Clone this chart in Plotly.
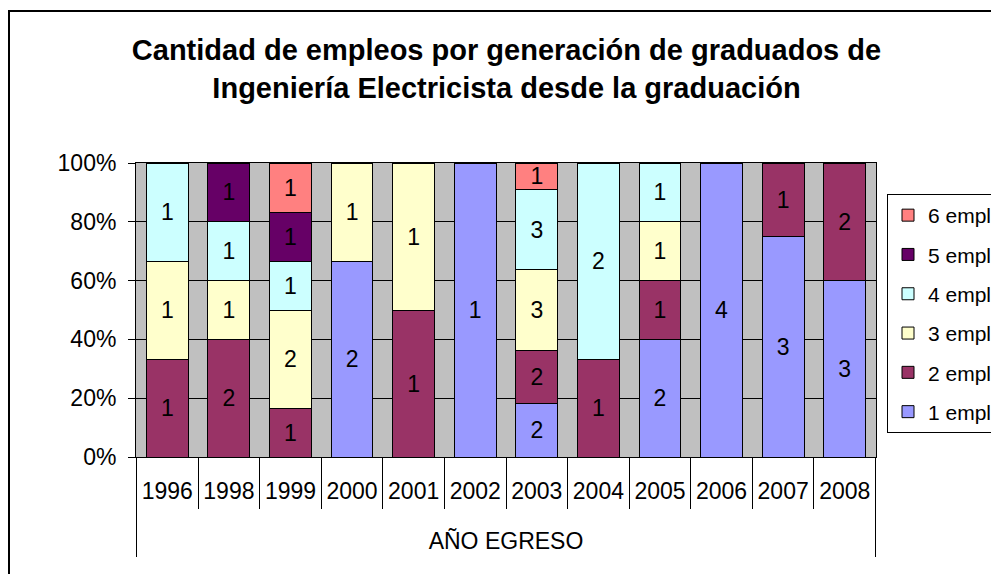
import plotly.graph_objects as go

years = ["1996", "1998", "1999", "2000", "2001", "2002", "2003", "2004", "2005", "2006", "2007", "2008"]
series_names = ["1 empl", "2 empl", "3 empl", "4 empl", "5 empl", "6 empl"]
empl_1 = [0, 0, 0, 2, 0, 1, 2, 0, 2, 4, 3, 3]
empl_2 = [1, 2, 1, 0, 1, 0, 2, 1, 1, 0, 1, 2]
empl_3 = [1, 1, 2, 1, 1, 0, 3, 0, 1, 0, 0, 0]
empl_4 = [1, 1, 1, 0, 0, 0, 3, 2, 1, 0, 0, 0]
empl_5 = [0, 1, 1, 0, 0, 0, 0, 0, 0, 0, 0, 0]
empl_6 = [0, 0, 1, 0, 0, 0, 1, 0, 0, 0, 0, 0]
colors = ["#9999FF", "#993366", "#FFFFCC", "#CCFFFF", "#660066", "#FF8080"]
y_ticks = [0, 20, 40, 60, 80, 100]
y_tick_labels = ["0%", "20%", "40%", "60%", "80%", "100%"]

all_series = [empl_1, empl_2, empl_3, empl_4, empl_5, empl_6]
FONT = "Arial, Liberation Sans"
FS = 23

fig = go.Figure()
n = len(series_names)
for i, (name, vals, col) in enumerate(zip(series_names, all_series, colors)):
    fig.add_trace(go.Bar(
        x=years, y=vals, name=name, legendgroup=name, legendrank=n - i,
        marker=dict(color=col, line=dict(color="black", width=1)),
        text=[str(v) if v else "" for v in vals],
        textposition="inside", insidetextanchor="middle",
        textangle=0, constraintext="none",
        textfont=dict(family=FONT, size=FS, color="black"),
        hoverinfo="skip",
    ))

# page has an 8px body margin; work in screen pixels and convert
OFF = 8
W, H = 999, 574
L, R, T, B = 136 - OFF, W - (876 - OFF), 163 - OFF, H - (457 - OFF)
pw, ph = W - L - R, H - T - B

def px_x(p):
    return (p - OFF - L) / pw

def px_y(p):
    return (H - B - (p - OFF)) / ph

fig.update_layout(
    width=W, height=H,
    barmode="stack", barnorm="percent", bargap=0.32,
    margin=dict(l=L, r=R, t=T, b=B, autoexpand=False),
    paper_bgcolor="white", plot_bgcolor="#C0C0C0",
    font=dict(family=FONT, size=FS, color="black"),
    title=dict(
        text="<b>Cantidad de empleos por generación de graduados de<br>Ingeniería Electricista desde la graduación</b>",
        x=0.499, xanchor="center", y=1 - (60 - OFF) / H, yanchor="middle",
        font=dict(size=29, family=FONT, color="black"),
    ),
    legend=dict(
        x=px_x(887), xanchor="left", y=px_y(194), yanchor="top",
        traceorder="grouped", tracegroupgap=9,
        bordercolor="black", borderwidth=1, bgcolor="white",
        font=dict(size=21, family=FONT),
        itemwidth=30,
    ),
    xaxis=dict(
        type="category", tickson="boundaries", ticks="outside", ticklen=51,
        tickcolor="black", showline=True, linecolor="black", mirror=True,
        showgrid=False, tickfont=dict(size=FS), ticklabelstandoff=13,
        title=dict(text="AÑO EGRESO", font=dict(size=FS), standoff=30),
    ),
    yaxis=dict(
        range=[0, 100], tickvals=y_ticks, ticktext=y_tick_labels,
        ticks="outside", ticklen=7, tickcolor="black",
        showline=True, linecolor="black", mirror=True,
        showgrid=True, gridcolor="black", gridwidth=1,
        tickfont=dict(size=FS), zeroline=False, ticklabelstandoff=7,
    ),
    showlegend=True,
)

# outer group lines of the category table
for xv in [-0.5, len(years) - 0.5]:
    fig.add_shape(type="line", xref="x", yref="paper", x0=xv, x1=xv,
                  y0=px_y(557), y1=0, line=dict(color="black", width=1))

# chart border
fig.add_shape(type="rect", xref="paper", yref="paper",
              x0=px_x(9), x1=px_x(1200), y0=px_y(800), y1=px_y(11),
              line=dict(color="black", width=2), layer="below")

fig.write_html("out.html")
